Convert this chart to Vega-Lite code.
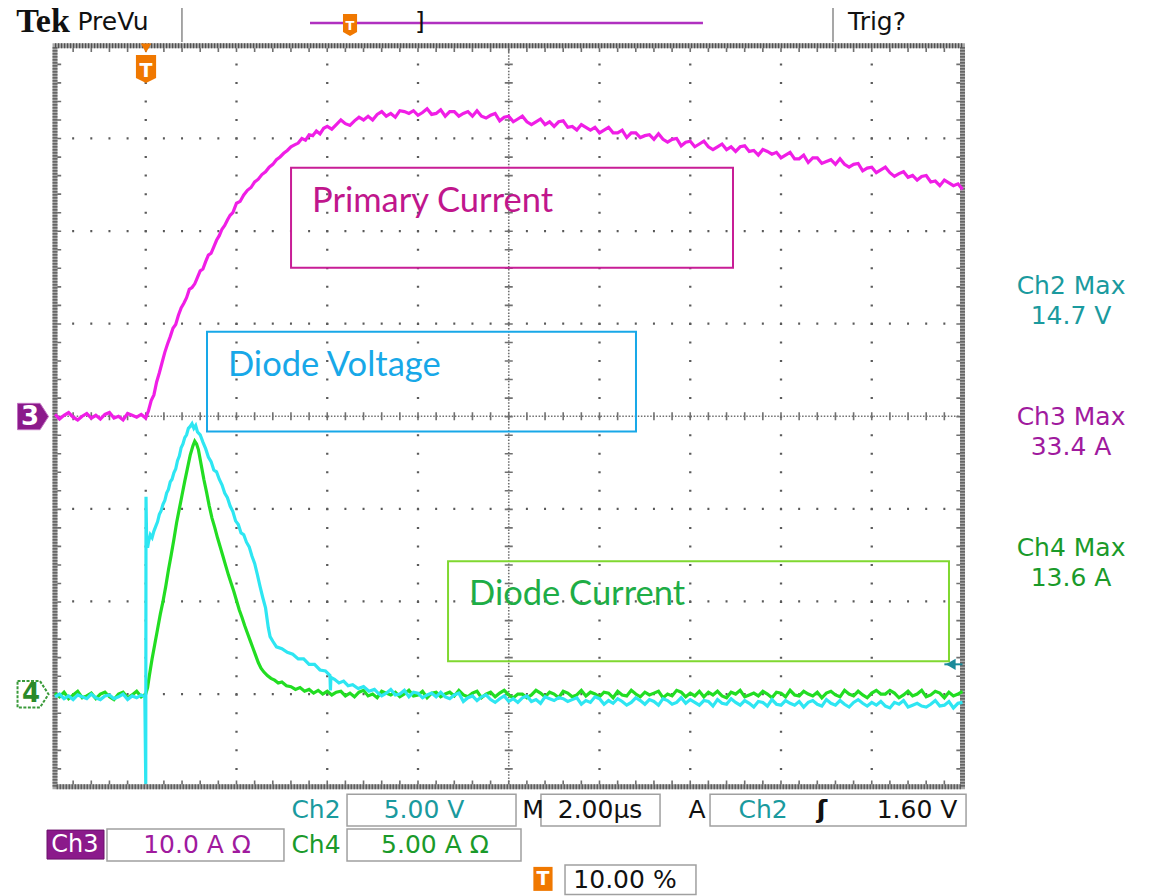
{
"$schema": "https://vega.github.io/schema/vega-lite/v6.json",
"width": 1151, "height": 896, "padding": 0,
"autosize": {"type": "fit", "contains": "padding"},
"background": "white",
"config": {"view": {"stroke": null}},
"datasets": {
"ch3": [
{"t":0.00,"v":0.02},{"t":0.05,"v":-0.03},{"t":0.10,"v":0.01},{"t":0.15,"v":0.04},{"t":0.20,"v":-0.01},{"t":0.25,"v":-0.04},{"t":0.30,"v":0.00},{"t":0.35,"v":0.03},{"t":0.40,"v":-0.02},{"t":0.45,"v":0.01},{"t":0.50,"v":-0.03},{"t":0.55,"v":0.02},{"t":0.60,"v":0.04},{"t":0.65,"v":-0.02},{"t":0.70,"v":0.00},{"t":0.75,"v":-0.04},{"t":0.80,"v":0.03},{"t":0.85,"v":0.01},{"t":0.90,"v":-0.01},{"t":0.95,"v":0.02},{"t":1.00,"v":-0.02},
{"t":1.03,"v":0.06},{"t":1.06,"v":0.17},{"t":1.09,"v":0.23},{"t":1.12,"v":0.37},{"t":1.15,"v":0.47},{"t":1.18,"v":0.58},{"t":1.21,"v":0.69},{"t":1.24,"v":0.78},{"t":1.27,"v":0.86},{"t":1.30,"v":0.95},{"t":1.33,"v":0.99},{"t":1.36,"v":1.09},{"t":1.39,"v":1.17},{"t":1.42,"v":1.22},{"t":1.45,"v":1.28},{"t":1.48,"v":1.37},{"t":1.51,"v":1.39},{"t":1.54,"v":1.43},{"t":1.57,"v":1.50},{"t":1.60,"v":1.57},{"t":1.63,"v":1.59},{"t":1.66,"v":1.67},{"t":1.69,"v":1.74},{"t":1.72,"v":1.76},{"t":1.75,"v":1.83},{"t":1.78,"v":1.90},{"t":1.81,"v":1.95},{"t":1.84,"v":2.02},{"t":1.87,"v":2.06},{"t":1.90,"v":2.12},{"t":1.93,"v":2.17},{"t":1.96,"v":2.20},{"t":2.00,"v":2.30},{"t":2.04,"v":2.32},{"t":2.08,"v":2.39},{"t":2.12,"v":2.44},{"t":2.16,"v":2.47},{"t":2.20,"v":2.53},{"t":2.24,"v":2.56},{"t":2.28,"v":2.61},{"t":2.32,"v":2.64},{"t":2.36,"v":2.69},{"t":2.40,"v":2.72},{"t":2.44,"v":2.77},{"t":2.48,"v":2.80},{"t":2.52,"v":2.84},{"t":2.56,"v":2.87},{"t":2.60,"v":2.91},{"t":2.64,"v":2.93},{"t":2.68,"v":2.95},{"t":2.72,"v":3.00},{"t":2.76,"v":2.98},{"t":2.80,"v":3.04},{"t":2.84,"v":3.03},{"t":2.88,"v":3.08},{"t":2.92,"v":3.05},{"t":2.96,"v":3.11},
{"t":3.00,"v":3.13},{"t":3.05,"v":3.10},{"t":3.10,"v":3.15},{"t":3.15,"v":3.20},{"t":3.20,"v":3.16},{"t":3.25,"v":3.14},{"t":3.30,"v":3.19},{"t":3.35,"v":3.23},{"t":3.40,"v":3.20},{"t":3.45,"v":3.24},{"t":3.50,"v":3.20},{"t":3.55,"v":3.26},{"t":3.60,"v":3.29},{"t":3.65,"v":3.24},{"t":3.70,"v":3.27},{"t":3.75,"v":3.23},{"t":3.80,"v":3.30},{"t":3.85,"v":3.29},{"t":3.90,"v":3.27},{"t":3.95,"v":3.30},{"t":4.00,"v":3.25},{"t":4.05,"v":3.28},{"t":4.10,"v":3.32},{"t":4.15,"v":3.26},{"t":4.20,"v":3.27},{"t":4.25,"v":3.31},{"t":4.30,"v":3.24},{"t":4.35,"v":3.29},{"t":4.40,"v":3.29},{"t":4.45,"v":3.24},{"t":4.50,"v":3.27},{"t":4.55,"v":3.29},{"t":4.60,"v":3.24},{"t":4.65,"v":3.30},{"t":4.70,"v":3.24},{"t":4.75,"v":3.22},{"t":4.80,"v":3.25},{"t":4.85,"v":3.27},{"t":4.90,"v":3.19},{"t":4.95,"v":3.23},{"t":5.00,"v":3.24},{"t":5.05,"v":3.18},{"t":5.10,"v":3.21},{"t":5.15,"v":3.24},{"t":5.20,"v":3.18},{"t":5.25,"v":3.15},{"t":5.30,"v":3.18},{"t":5.35,"v":3.21},{"t":5.40,"v":3.15},{"t":5.45,"v":3.18},{"t":5.50,"v":3.13},{"t":5.55,"v":3.18},{"t":5.60,"v":3.19},{"t":5.65,"v":3.12},{"t":5.70,"v":3.13},{"t":5.75,"v":3.09},{"t":5.80,"v":3.15},{"t":5.85,"v":3.12},{"t":5.90,"v":3.09},{"t":5.95,"v":3.12},{"t":6.00,"v":3.06},{"t":6.05,"v":3.09},{"t":6.10,"v":3.12},{"t":6.15,"v":3.06},{"t":6.20,"v":3.06},{"t":6.25,"v":3.09},{"t":6.30,"v":3.01},{"t":6.35,"v":3.06},{"t":6.40,"v":3.06},{"t":6.45,"v":3.01},{"t":6.50,"v":3.03},{"t":6.55,"v":3.04},{"t":6.60,"v":2.99},{"t":6.65,"v":3.05},{"t":6.70,"v":2.99},{"t":6.75,"v":2.96},{"t":6.80,"v":2.99},{"t":6.85,"v":3.00},{"t":6.90,"v":2.92},{"t":6.95,"v":2.96},{"t":7.00,"v":2.97},{"t":7.05,"v":2.91},{"t":7.10,"v":2.94},{"t":7.15,"v":2.97},{"t":7.20,"v":2.91},{"t":7.25,"v":2.88},{"t":7.30,"v":2.91},{"t":7.35,"v":2.94},{"t":7.40,"v":2.88},{"t":7.45,"v":2.91},{"t":7.50,"v":2.86},{"t":7.55,"v":2.91},{"t":7.60,"v":2.92},{"t":7.65,"v":2.86},{"t":7.70,"v":2.87},{"t":7.75,"v":2.82},{"t":7.80,"v":2.88},{"t":7.85,"v":2.86},{"t":7.90,"v":2.83},{"t":7.95,"v":2.85},{"t":8.00,"v":2.79},{"t":8.05,"v":2.82},{"t":8.10,"v":2.85},{"t":8.15,"v":2.78},{"t":8.20,"v":2.78},{"t":8.25,"v":2.82},{"t":8.30,"v":2.74},{"t":8.35,"v":2.79},{"t":8.40,"v":2.79},{"t":8.45,"v":2.73},{"t":8.50,"v":2.75},{"t":8.55,"v":2.77},{"t":8.60,"v":2.72},{"t":8.65,"v":2.78},{"t":8.70,"v":2.72},{"t":8.75,"v":2.69},{"t":8.80,"v":2.72},{"t":8.85,"v":2.73},{"t":8.90,"v":2.65},{"t":8.95,"v":2.68},{"t":9.00,"v":2.69},{"t":9.05,"v":2.63},{"t":9.10,"v":2.66},{"t":9.15,"v":2.69},{"t":9.20,"v":2.63},{"t":9.25,"v":2.59},{"t":9.30,"v":2.62},{"t":9.35,"v":2.64},{"t":9.40,"v":2.58},{"t":9.45,"v":2.60},{"t":9.50,"v":2.55},{"t":9.55,"v":2.59},{"t":9.60,"v":2.60},{"t":9.65,"v":2.53},{"t":9.70,"v":2.54},{"t":9.75,"v":2.49},{"t":9.80,"v":2.55},{"t":9.85,"v":2.52},{"t":9.90,"v":2.49},{"t":9.95,"v":2.51},{"t":10.00,"v":2.45}
],
"ch4": [
{"t":0.00,"v":-2.99},{"t":0.05,"v":-3.03},{"t":0.10,"v":-2.98},{"t":0.15,"v":-3.05},{"t":0.20,"v":-3.01},{"t":0.25,"v":-2.97},{"t":0.30,"v":-3.04},{"t":0.35,"v":-3.02},{"t":0.40,"v":-2.99},{"t":0.45,"v":-3.05},{"t":0.50,"v":-3.00},{"t":0.55,"v":-2.98},{"t":0.60,"v":-3.03},{"t":0.65,"v":-3.06},{"t":0.70,"v":-3.00},{"t":0.75,"v":-2.98},{"t":0.80,"v":-3.04},{"t":0.85,"v":-3.01},{"t":0.90,"v":-2.97},{"t":0.95,"v":-3.03},{"t":1.00,"v":-3.00},
{"t":1.02,"v":-2.93},{"t":1.04,"v":-2.80},{"t":1.07,"v":-2.62},{"t":1.10,"v":-2.46},{"t":1.13,"v":-2.30},{"t":1.16,"v":-2.14},{"t":1.19,"v":-2.00},{"t":1.22,"v":-1.84},{"t":1.25,"v":-1.66},{"t":1.28,"v":-1.50},{"t":1.31,"v":-1.33},{"t":1.34,"v":-1.15},{"t":1.37,"v":-1.00},{"t":1.40,"v":-0.85},{"t":1.43,"v":-0.70},{"t":1.46,"v":-0.56},{"t":1.49,"v":-0.42},{"t":1.52,"v":-0.32},{"t":1.54,"v":-0.27},{"t":1.56,"v":-0.30},{"t":1.58,"v":-0.36},{"t":1.61,"v":-0.52},{"t":1.64,"v":-0.68},{"t":1.67,"v":-0.82},{"t":1.70,"v":-0.97},{"t":1.73,"v":-1.10},{"t":1.76,"v":-1.20},{"t":1.79,"v":-1.31},{"t":1.82,"v":-1.41},{"t":1.85,"v":-1.51},{"t":1.88,"v":-1.61},{"t":1.91,"v":-1.71},{"t":1.94,"v":-1.80},{"t":1.97,"v":-1.89},{"t":2.00,"v":-1.99},{"t":2.03,"v":-2.09},{"t":2.06,"v":-2.17},{"t":2.09,"v":-2.26},{"t":2.12,"v":-2.34},{"t":2.15,"v":-2.42},{"t":2.18,"v":-2.50},{"t":2.21,"v":-2.58},{"t":2.24,"v":-2.66},{"t":2.27,"v":-2.72},{"t":2.30,"v":-2.76},{"t":2.34,"v":-2.80},{"t":2.38,"v":-2.83},{"t":2.42,"v":-2.85},{"t":2.46,"v":-2.88},{"t":2.50,"v":-2.87},{"t":2.55,"v":-2.91},{"t":2.60,"v":-2.92},{"t":2.65,"v":-2.95},{"t":2.70,"v":-2.93},{"t":2.75,"v":-2.97},{"t":2.80,"v":-2.95},{"t":2.85,"v":-2.99},{"t":2.90,"v":-2.96},{"t":2.95,"v":-3.00},{"t":3.00,"v":-2.97},{"t":3.05,"v":-3.01},{"t":3.10,"v":-2.98},
{"t":3.15,"v":-2.97},{"t":3.20,"v":-3.02},{"t":3.25,"v":-2.99},{"t":3.30,"v":-3.03},{"t":3.35,"v":-2.98},{"t":3.40,"v":-2.96},{"t":3.45,"v":-3.02},{"t":3.50,"v":-3.00},{"t":3.55,"v":-3.04},{"t":3.60,"v":-2.97},{"t":3.65,"v":-2.99},{"t":3.70,"v":-3.01},{"t":3.75,"v":-2.98},{"t":3.80,"v":-3.03},{"t":3.85,"v":-3.00},{"t":3.90,"v":-2.96},{"t":3.95,"v":-3.02},{"t":4.00,"v":-3.01},{"t":4.05,"v":-2.97},{"t":4.10,"v":-3.04},{"t":4.15,"v":-2.99},{"t":4.20,"v":-2.98},{"t":4.25,"v":-3.03},{"t":4.30,"v":-3.00},{"t":4.35,"v":-2.98},{"t":4.40,"v":-3.02},{"t":4.45,"v":-2.96},{"t":4.50,"v":-3.01},{"t":4.55,"v":-3.03},{"t":4.60,"v":-2.99},{"t":4.65,"v":-2.97},{"t":4.70,"v":-3.04},{"t":4.75,"v":-3.00},{"t":4.80,"v":-2.98},{"t":4.85,"v":-3.03},{"t":4.90,"v":-2.99},{"t":4.95,"v":-2.96},{"t":5.00,"v":-3.01},{"t":5.05,"v":-3.04},{"t":5.10,"v":-3.00},
{"t":5.15,"v":-3.00},{"t":5.20,"v":-3.04},{"t":5.25,"v":-3.01},{"t":5.30,"v":-2.96},{"t":5.35,"v":-2.99},{"t":5.40,"v":-3.03},{"t":5.45,"v":-2.98},{"t":5.50,"v":-3.00},{"t":5.55,"v":-3.04},{"t":5.60,"v":-2.97},{"t":5.65,"v":-2.99},{"t":5.70,"v":-3.03},{"t":5.75,"v":-3.01},{"t":5.80,"v":-2.96},{"t":5.85,"v":-3.02},{"t":5.90,"v":-2.98},{"t":5.95,"v":-3.00},{"t":6.00,"v":-3.03},{"t":6.05,"v":-2.98},{"t":6.10,"v":-2.99},{"t":6.15,"v":-3.04},{"t":6.20,"v":-2.97},{"t":6.25,"v":-3.01},{"t":6.30,"v":-3.02},{"t":6.35,"v":-2.96},{"t":6.40,"v":-3.00},{"t":6.45,"v":-3.03},{"t":6.50,"v":-2.98},{"t":6.55,"v":-3.01},{"t":6.60,"v":-2.99},{"t":6.65,"v":-2.97},{"t":6.70,"v":-3.04},{"t":6.75,"v":-3.00},{"t":6.80,"v":-3.02},{"t":6.85,"v":-2.96},{"t":6.90,"v":-2.98},{"t":6.95,"v":-3.03},{"t":7.00,"v":-2.99},{"t":7.05,"v":-3.02},{"t":7.10,"v":-2.97},
{"t":7.15,"v":-3.03},{"t":7.20,"v":-2.98},{"t":7.25,"v":-3.01},{"t":7.30,"v":-2.97},{"t":7.35,"v":-3.02},{"t":7.40,"v":-3.04},{"t":7.45,"v":-2.98},{"t":7.50,"v":-3.00},{"t":7.55,"v":-2.96},{"t":7.60,"v":-3.03},{"t":7.65,"v":-3.01},{"t":7.70,"v":-2.99},{"t":7.75,"v":-3.02},{"t":7.80,"v":-2.97},{"t":7.85,"v":-3.00},{"t":7.90,"v":-3.04},{"t":7.95,"v":-2.98},{"t":8.00,"v":-2.99},{"t":8.05,"v":-3.03},{"t":8.10,"v":-2.96},{"t":8.15,"v":-3.01},{"t":8.20,"v":-3.02},{"t":8.25,"v":-2.97},{"t":8.30,"v":-3.00},{"t":8.35,"v":-3.02},{"t":8.40,"v":-2.98},{"t":8.45,"v":-3.04},{"t":8.50,"v":-2.99},{"t":8.55,"v":-2.97},{"t":8.60,"v":-3.01},{"t":8.65,"v":-3.03},{"t":8.70,"v":-2.96},{"t":8.75,"v":-3.00},{"t":8.80,"v":-3.02},{"t":8.85,"v":-2.97},{"t":8.90,"v":-3.01},{"t":8.95,"v":-3.04},{"t":9.00,"v":-2.99},{"t":9.05,"v":-2.96},{"t":9.10,"v":-3.00},
{"t":9.15,"v":-3.00},{"t":9.20,"v":-2.96},{"t":9.25,"v":-2.99},{"t":9.30,"v":-3.04},{"t":9.35,"v":-3.01},{"t":9.40,"v":-2.97},{"t":9.45,"v":-3.02},{"t":9.50,"v":-3.00},{"t":9.55,"v":-2.96},{"t":9.60,"v":-3.03},{"t":9.65,"v":-3.01},{"t":9.70,"v":-2.97},{"t":9.75,"v":-2.99},{"t":9.80,"v":-3.04},{"t":9.85,"v":-2.98},{"t":9.90,"v":-3.02},{"t":9.95,"v":-3.00},{"t":10.00,"v":-2.97}
],
"ch2": [
{"t":0.00,"v":-3.03},{"t":0.05,"v":-3.00},{"t":0.10,"v":-3.05},{"t":0.15,"v":-3.02},{"t":0.20,"v":-3.06},{"t":0.25,"v":-3.01},{"t":0.30,"v":-3.03},{"t":0.35,"v":-3.05},{"t":0.40,"v":-3.00},{"t":0.45,"v":-3.04},{"t":0.50,"v":-3.06},{"t":0.55,"v":-3.02},{"t":0.60,"v":-3.01},{"t":0.65,"v":-3.05},{"t":0.70,"v":-3.03},{"t":0.75,"v":-3.00},{"t":0.80,"v":-3.06},{"t":0.85,"v":-3.02},{"t":0.90,"v":-3.04},{"t":0.95,"v":-3.01},{"t":0.99,"v":-3.03},
{"t":1.000,"v":-3.97},{"t":1.003,"v":-0.87},{"t":1.006,"v":-1.10},{"t":1.010,"v":-1.35},{"t":1.02,"v":-1.42},{"t":1.03,"v":-1.36},{"t":1.05,"v":-1.28},{"t":1.07,"v":-1.31},{"t":1.09,"v":-1.24},{"t":1.11,"v":-1.19},{"t":1.13,"v":-1.14},{"t":1.15,"v":-1.06},{"t":1.17,"v":-1.02},{"t":1.19,"v":-0.95},{"t":1.21,"v":-0.91},{"t":1.23,"v":-0.83},{"t":1.25,"v":-0.79},{"t":1.27,"v":-0.71},{"t":1.29,"v":-0.68},{"t":1.31,"v":-0.61},{"t":1.33,"v":-0.57},{"t":1.35,"v":-0.48},{"t":1.37,"v":-0.43},{"t":1.39,"v":-0.34},{"t":1.41,"v":-0.30},{"t":1.43,"v":-0.23},{"t":1.45,"v":-0.20},{"t":1.47,"v":-0.13},{"t":1.49,"v":-0.11},{"t":1.51,"v":-0.08},{"t":1.53,"v":-0.13},{"t":1.55,"v":-0.10},{"t":1.57,"v":-0.17},{"t":1.60,"v":-0.20},{"t":1.63,"v":-0.28},{"t":1.66,"v":-0.35},{"t":1.69,"v":-0.44},{"t":1.72,"v":-0.49},{"t":1.75,"v":-0.58},{"t":1.78,"v":-0.60},{"t":1.81,"v":-0.68},{"t":1.84,"v":-0.74},{"t":1.87,"v":-0.83},{"t":1.90,"v":-0.88},{"t":1.93,"v":-0.97},{"t":1.96,"v":-1.03},{"t":1.99,"v":-1.13},{"t":2.02,"v":-1.17},{"t":2.05,"v":-1.26},{"t":2.08,"v":-1.28},{"t":2.11,"v":-1.36},{"t":2.14,"v":-1.41},{"t":2.17,"v":-1.51},{"t":2.20,"v":-1.59},{"t":2.23,"v":-1.71},{"t":2.26,"v":-1.84},{"t":2.29,"v":-1.96},{"t":2.32,"v":-2.07},{"t":2.35,"v":-2.28},{"t":2.37,"v":-2.38},{"t":2.40,"v":-2.43},{"t":2.44,"v":-2.49},{"t":2.50,"v":-2.51},{"t":2.56,"v":-2.55},{"t":2.62,"v":-2.57},{"t":2.68,"v":-2.62},{"t":2.74,"v":-2.62},{"t":2.80,"v":-2.68},{"t":2.86,"v":-2.68},{"t":2.92,"v":-2.74},{"t":2.98,"v":-2.75},{"t":3.03,"v":-2.80},{"t":3.035,"v":-2.96},{"t":3.04,"v":-2.82},{"t":3.08,"v":-2.84},{"t":3.13,"v":-2.88},{"t":3.18,"v":-2.86},{"t":3.23,"v":-2.91},{"t":3.28,"v":-2.90},{"t":3.34,"v":-2.94},{"t":3.40,"v":-2.92},{"t":3.46,"v":-2.97},{"t":3.52,"v":-2.95},{"t":3.56,"v":-2.99},
{"t":3.60,"v":-3.02},{"t":3.65,"v":-2.99},{"t":3.70,"v":-2.95},{"t":3.75,"v":-3.01},{"t":3.80,"v":-3.00},{"t":3.85,"v":-2.96},{"t":3.90,"v":-3.03},{"t":3.95,"v":-2.98},{"t":4.00,"v":-2.99},{"t":4.05,"v":-3.04},{"t":4.10,"v":-3.01},{"t":4.15,"v":-2.99},{"t":4.20,"v":-3.03},{"t":4.25,"v":-2.98},{"t":4.30,"v":-3.03},{"t":4.35,"v":-3.05},{"t":4.40,"v":-3.01},{"t":4.45,"v":-2.99},{"t":4.50,"v":-3.08},{"t":4.55,"v":-3.04},{"t":4.60,"v":-3.02},{"t":4.65,"v":-3.07},{"t":4.70,"v":-3.03},{"t":4.75,"v":-3.01},{"t":4.80,"v":-3.06},{"t":4.85,"v":-3.09},{"t":4.90,"v":-3.05},{"t":4.95,"v":-3.02},{"t":5.00,"v":-3.08},{"t":5.05,"v":-3.05},{"t":5.10,"v":-3.09},{"t":5.15,"v":-3.04},{"t":5.20,"v":-3.02},{"t":5.25,"v":-3.08},{"t":5.30,"v":-3.06},{"t":5.35,"v":-3.10},{"t":5.40,"v":-3.03},{"t":5.45,"v":-3.05},{"t":5.50,"v":-3.07},{"t":5.55,"v":-3.04},
{"t":5.60,"v":-3.05},{"t":5.65,"v":-3.08},{"t":5.70,"v":-3.06},{"t":5.75,"v":-3.04},{"t":5.80,"v":-3.11},{"t":5.85,"v":-3.07},{"t":5.90,"v":-3.09},{"t":5.95,"v":-3.03},{"t":6.00,"v":-3.05},{"t":6.05,"v":-3.11},{"t":6.10,"v":-3.07},{"t":6.15,"v":-3.10},{"t":6.20,"v":-3.05},{"t":6.25,"v":-3.08},{"t":6.30,"v":-3.12},{"t":6.35,"v":-3.09},{"t":6.40,"v":-3.04},{"t":6.45,"v":-3.07},{"t":6.50,"v":-3.11},{"t":6.55,"v":-3.06},{"t":6.60,"v":-3.08},{"t":6.65,"v":-3.12},{"t":6.70,"v":-3.05},{"t":6.75,"v":-3.07},{"t":6.80,"v":-3.11},{"t":6.85,"v":-3.09},{"t":6.90,"v":-3.04},{"t":6.95,"v":-3.10},{"t":7.00,"v":-3.06},{"t":7.05,"v":-3.09},{"t":7.10,"v":-3.12},{"t":7.15,"v":-3.07},{"t":7.20,"v":-3.08},{"t":7.25,"v":-3.13},{"t":7.30,"v":-3.06},{"t":7.35,"v":-3.10},{"t":7.40,"v":-3.11},{"t":7.45,"v":-3.05},{"t":7.50,"v":-3.09},{"t":7.55,"v":-3.12},
{"t":7.60,"v":-3.07},{"t":7.65,"v":-3.10},{"t":7.70,"v":-3.14},{"t":7.75,"v":-3.08},{"t":7.80,"v":-3.09},{"t":7.85,"v":-3.13},{"t":7.90,"v":-3.06},{"t":7.95,"v":-3.11},{"t":8.00,"v":-3.12},{"t":8.05,"v":-3.07},{"t":8.10,"v":-3.10},{"t":8.15,"v":-3.12},{"t":8.20,"v":-3.08},{"t":8.25,"v":-3.14},{"t":8.30,"v":-3.09},{"t":8.35,"v":-3.07},{"t":8.40,"v":-3.11},{"t":8.45,"v":-3.13},{"t":8.50,"v":-3.06},{"t":8.55,"v":-3.10},{"t":8.60,"v":-3.12},{"t":8.65,"v":-3.07},{"t":8.70,"v":-3.11},{"t":8.75,"v":-3.14},{"t":8.80,"v":-3.09},{"t":8.85,"v":-3.06},{"t":8.90,"v":-3.10},{"t":8.95,"v":-3.13},{"t":9.00,"v":-3.09},{"t":9.05,"v":-3.12},{"t":9.10,"v":-3.08},{"t":9.15,"v":-3.13},{"t":9.20,"v":-3.15},{"t":9.25,"v":-3.09},{"t":9.30,"v":-3.11},{"t":9.35,"v":-3.07},{"t":9.40,"v":-3.14},{"t":9.45,"v":-3.12},{"t":9.50,"v":-3.10},{"t":9.55,"v":-3.13},
{"t":9.60,"v":-3.14},{"t":9.65,"v":-3.11},{"t":9.70,"v":-3.07},{"t":9.75,"v":-3.13},{"t":9.80,"v":-3.12},{"t":9.85,"v":-3.08},{"t":9.90,"v":-3.15},{"t":9.95,"v":-3.10},{"t":10.00,"v":-3.09}
],
"frame": [{"t":0,"t2":10,"v":-4,"v2":4}],
"vgrid": [{"t":1,"v":4,"v2":-4},{"t":2,"v":4,"v2":-4},{"t":3,"v":4,"v2":-4},{"t":4,"v":4,"v2":-4},{"t":6,"v":4,"v2":-4},{"t":7,"v":4,"v2":-4},{"t":8,"v":4,"v2":-4},{"t":9,"v":4,"v2":-4}],
"hgrid": [{"t":0,"t2":10,"v":3},{"t":0,"t2":10,"v":2},{"t":0,"t2":10,"v":1},{"t":0,"t2":10,"v":-1},{"t":0,"t2":10,"v":-2},{"t":0,"t2":10,"v":-3}],
"vcenter": [{"t":5,"v":4,"v2":-4}],
"hcenter": [{"t":0,"t2":10,"v":0}],
"edgeh": [{"t":0,"t2":10,"v":3.965},{"t":0,"t2":10,"v":-3.965}],
"edgev": [{"t":0.035,"v":4,"v2":-4},{"t":9.965,"v":4,"v2":-4}],
"seps": [{"t":1.399,"v":4.409,"v2":4.042},{"t":8.573,"v":4.409,"v2":4.042}],
"recbar": [{"t":2.810,"t2":7.140,"v":4.247}],
"notes": [
{"t":2.601,"t2":7.471,"v":2.683,"v2":1.604,"name":"Primary Current"},
{"t":1.675,"t2":6.402,"v":0.913,"v2":-0.165,"name":"Diode Voltage"},
{"t":4.331,"t2":9.851,"v":-1.567,"v2":-2.646,"name":"Diode Current"}
],
"notelabels": [
{"t":2.832,"v":2.314,"name":"Primary Current"},
{"t":1.906,"v":0.547,"name":"Diode Voltage"},
{"t":4.562,"v":-1.934,"name":"Diode Current"}
],
"boxes": [
{"t":3.218,"t2":5.080,"v":-4.081,"v2":-4.426},
{"t":5.355,"t2":6.667,"v":-4.081,"v2":-4.426},
{"t":7.218,"t2":10.039,"v":-4.081,"v2":-4.426},
{"t":0.573,"t2":2.523,"v":-4.458,"v2":-4.803},
{"t":3.218,"t2":5.135,"v":-4.458,"v2":-4.803},
{"t":5.620,"t2":7.063,"v":-4.846,"v2":-5.165}
],
"ch3box": [{"t":-0.088,"t2":0.540,"v":-4.469,"v2":-4.782}],
"trigline": [{"t":9.80,"t2":10.0,"v":-2.679}],
"trigmark": [{"t":9.87,"v":-2.679}],
"marker3": [{"t":-0.242,"v":-0.003}],
"marker4": [{"t":-0.242,"v":-3.002}],
"shieldbig": [{"t":1.003,"v":3.751}],
"tribig": [{"t":1.003,"v":3.975}],
"shieldsmall": [{"t":3.251,"v":4.226}],
"iconT": [{"t":5.377,"v":-4.996}],
"txt_tek": [{"t":-0.132,"v":4.258,"text":"Tek"}],
"txt_black": [
{"t":0.639,"v":4.258,"text":"PreVu"},
{"t":9.058,"v":4.258,"text":"Trig?"},
{"t":4.022,"v":4.258,"text":"]"},
{"t":5.267,"v":-4.254,"text":"M"},
{"t":6.006,"v":-4.254,"text":"2.00µs"},
{"t":7.074,"v":-4.254,"text":"A"},
{"t":9.499,"v":-4.254,"text":"1.60 V"},
{"t":6.281,"v":-5.007,"text":"10.00 %"}
],
"txt_edge": [{"t":8.452,"v":-4.254,"text":"ʃ"}],
"txt_teal": [
{"t":2.876,"v":-4.254,"text":"Ch2"},
{"t":4.066,"v":-4.254,"text":"5.00 V"},
{"t":7.802,"v":-4.254,"text":"Ch2"},
{"t":11.196,"v":1.408,"text":"Ch2 Max"},
{"t":11.196,"v":1.085,"text":"14.7 V"}
],
"txt_purple": [
{"t":1.565,"v":-4.632,"text":"10.0 A Ω"},
{"t":11.196,"v":-0.003,"text":"Ch3 Max"},
{"t":11.196,"v":-0.327,"text":"33.4 A"}
],
"txt_green": [
{"t":2.876,"v":-4.632,"text":"Ch4"},
{"t":4.187,"v":-4.632,"text":"5.00 A Ω"},
{"t":11.196,"v":-1.427,"text":"Ch4 Max"},
{"t":11.196,"v":-1.751,"text":"13.6 A"}
],
"txt_white": [
{"t":0.220,"v":-4.632,"text":"Ch3"}
],
"txt_three": [{"t":-0.275,"v":-0.003,"text":"3"}],
"txt_four": [{"t":-0.264,"v":-3.002,"text":"4"}],
"txt_T": [{"t":1.003,"v":3.73,"text":"T"},{"t":5.377,"v":-5.0,"text":"T"}],
"txt_Tsmall": [{"t":3.251,"v":4.215,"text":"T"}]
},
"encoding": {
"x": {"field": "t", "type": "quantitative", "scale": {"domain": [-0.606, 12.077], "nice": false, "zero": false}, "axis": null},
"y": {"field": "v", "type": "quantitative", "scale": {"domain": [-5.170, 4.495], "nice": false, "zero": false}, "axis": null}
},
"layer": [
{"data": {"name": "vgrid"}, "mark": {"type": "rule", "color": "#5a5a5a", "strokeWidth": 2.3, "strokeDash": [2, 16.54], "strokeDashOffset": 1}, "encoding": {"y2": {"field": "v2"}}},
{"data": {"name": "hgrid"}, "mark": {"type": "rule", "color": "#5a5a5a", "strokeWidth": 2.3, "strokeDash": [2, 16.15], "strokeDashOffset": 1}, "encoding": {"x2": {"field": "t2"}}},
{"data": {"name": "vcenter"}, "mark": {"type": "rule", "color": "#707070", "strokeWidth": 1.6, "strokeDash": [1.5, 1.6]}, "encoding": {"y2": {"field": "v2"}}},
{"data": {"name": "vcenter"}, "mark": {"type": "rule", "color": "#707070", "strokeWidth": 8, "strokeDash": [1.6, 16.94], "strokeDashOffset": 0.8}, "encoding": {"y2": {"field": "v2"}}},
{"data": {"name": "hcenter"}, "mark": {"type": "rule", "color": "#707070", "strokeWidth": 1.6, "strokeDash": [1.5, 1.6]}, "encoding": {"x2": {"field": "t2"}}},
{"data": {"name": "hcenter"}, "mark": {"type": "rule", "color": "#707070", "strokeWidth": 8, "strokeDash": [1.6, 16.55], "strokeDashOffset": 0.8}, "encoding": {"x2": {"field": "t2"}}},
{"data": {"name": "edgeh"}, "mark": {"type": "rule", "color": "#707070", "strokeWidth": 6, "strokeDash": [1.6, 16.55], "strokeDashOffset": 0.8}, "encoding": {"x2": {"field": "t2"}}},
{"data": {"name": "edgev"}, "mark": {"type": "rule", "color": "#707070", "strokeWidth": 6, "strokeDash": [1.6, 16.94], "strokeDashOffset": 0.8}, "encoding": {"y2": {"field": "v2"}}},
{"data": {"name": "frame"}, "mark": {"type": "rect", "fill": "transparent", "stroke": "#a8a8a8", "strokeWidth": 5}, "encoding": {"x2": {"field": "t2"}, "y2": {"field": "v2"}}},
{"data": {"name": "frame"}, "mark": {"type": "rect", "fill": "transparent", "stroke": "#505050", "strokeWidth": 5, "strokeDash": [1.2, 1.8]}, "encoding": {"x2": {"field": "t2"}, "y2": {"field": "v2"}}},
{"data": {"name": "seps"}, "mark": {"type": "rule", "color": "#8a8a8a", "strokeWidth": 1.5}, "encoding": {"y2": {"field": "v2"}}},
{"data": {"name": "recbar"}, "mark": {"type": "rule", "color": "#b030c0", "strokeWidth": 2.5}, "encoding": {"x2": {"field": "t2"}}},
{"data": {"name": "ch3"}, "mark": {"type": "line", "color": "#f01ee6", "strokeWidth": 3.2}},
{"data": {"name": "ch4"}, "mark": {"type": "line", "color": "#22dd22", "strokeWidth": 3.2}},
{"data": {"name": "ch2"}, "mark": {"type": "line", "color": "#2ee6f2", "strokeWidth": 3.2}},
{"data": {"name": "trigline"}, "mark": {"type": "rule", "color": "#1a8a9a", "strokeWidth": 2}, "encoding": {"x2": {"field": "t2"}}},
{"data": {"name": "trigmark"}, "mark": {"type": "point", "shape": "triangle-left", "filled": true, "color": "#1a8a9a", "opacity": 1, "size": 130}},
{"data": {"name": "notes"}, "mark": {"type": "rect", "fill": "transparent", "strokeWidth": 2}, "encoding": {"x2": {"field": "t2"}, "y2": {"field": "v2"}, "stroke": {"field": "name", "type": "nominal", "scale": {"domain": ["Primary Current", "Diode Voltage", "Diode Current"], "range": ["#c81e96", "#18a8e8", "#80d830"]}, "legend": null}}},
{"data": {"name": "notelabels"}, "mark": {"type": "text", "font": "Lato", "fontSize": 34.5, "align": "left", "baseline": "middle"}, "encoding": {"text": {"field": "name"}, "color": {"field": "name", "type": "nominal", "scale": {"domain": ["Primary Current", "Diode Voltage", "Diode Current"], "range": ["#c0168c", "#18a8e8", "#1ead46"]}, "legend": null}}},
{"data": {"name": "boxes"}, "mark": {"type": "rect", "fill": "transparent", "stroke": "#a0a0a0", "strokeWidth": 1.5}, "encoding": {"x2": {"field": "t2"}, "y2": {"field": "v2"}}},
{"data": {"name": "ch3box"}, "mark": {"type": "rect", "fill": "#8b1a8b", "stroke": "#6a106a", "strokeWidth": 1}, "encoding": {"x2": {"field": "t2"}, "y2": {"field": "v2"}}},
{"data": {"name": "marker3"}, "mark": {"type": "point", "shape": "M-1,-0.85L0.45,-0.85L1,0L0.45,0.85L-1,0.85Z", "filled": true, "fill": "#8b1a8b", "stroke": "#c070c0", "strokeWidth": 1, "opacity": 1, "size": 961}},
{"data": {"name": "marker4"}, "mark": {"type": "point", "shape": "M-1,-0.85L0.45,-0.85L1,0L0.45,0.85L-1,0.85Z", "filled": true, "fill": "white", "stroke": "#3a9a3a", "strokeWidth": 2, "strokeDash": [3, 1.5], "opacity": 1, "size": 961}},
{"data": {"name": "tribig"}, "mark": {"type": "point", "shape": "triangle-down", "filled": true, "color": "#f07800", "opacity": 1, "size": 110}},
{"data": {"name": "shieldbig"}, "mark": {"type": "point", "shape": "M-0.72,-1L0.72,-1L0.72,0.65L0,1L-0.72,0.65Z", "filled": true, "color": "#f07800", "opacity": 1, "size": 784}},
{"data": {"name": "shieldsmall"}, "mark": {"type": "point", "shape": "M-0.64,-1L0.64,-1L0.64,0.65L0,1L-0.64,0.65Z", "filled": true, "color": "#f07800", "opacity": 1, "size": 484}},
{"data": {"name": "iconT"}, "mark": {"type": "point", "shape": "M-0.8,-1L0.8,-1L0.8,1L-0.8,1Z", "filled": true, "color": "#f07800", "opacity": 1, "size": 576}},
{"data": {"name": "txt_tek"}, "mark": {"type": "text", "font": "Liberation Serif", "fontWeight": "bold", "fontSize": 34, "color": "#111111", "align": "center", "baseline": "middle"}, "encoding": {"text": {"field": "text"}}},
{"data": {"name": "txt_black"}, "mark": {"type": "text", "font": "DejaVu Sans", "fontSize": 25, "color": "#111111", "align": "center", "baseline": "middle"}, "encoding": {"text": {"field": "text"}}},
{"data": {"name": "txt_edge"}, "mark": {"type": "text", "font": "DejaVu Sans", "fontWeight": "bold", "fontSize": 25, "color": "#111111", "align": "center", "baseline": "middle"}, "encoding": {"text": {"field": "text"}}},
{"data": {"name": "txt_teal"}, "mark": {"type": "text", "font": "DejaVu Sans", "fontSize": 25, "color": "#1a9a9e", "align": "center", "baseline": "middle"}, "encoding": {"text": {"field": "text"}}},
{"data": {"name": "txt_purple"}, "mark": {"type": "text", "font": "DejaVu Sans", "fontSize": 25, "color": "#a01a9e", "align": "center", "baseline": "middle"}, "encoding": {"text": {"field": "text"}}},
{"data": {"name": "txt_green"}, "mark": {"type": "text", "font": "DejaVu Sans", "fontSize": 25, "color": "#1a9a2a", "align": "center", "baseline": "middle"}, "encoding": {"text": {"field": "text"}}},
{"data": {"name": "txt_white"}, "mark": {"type": "text", "font": "DejaVu Sans", "fontSize": 24, "color": "white", "align": "center", "baseline": "middle"}, "encoding": {"text": {"field": "text"}}},
{"data": {"name": "txt_three"}, "mark": {"type": "text", "font": "DejaVu Sans", "fontWeight": "bold", "fontSize": 26, "color": "white", "align": "center", "baseline": "middle"}, "encoding": {"text": {"field": "text"}}},
{"data": {"name": "txt_four"}, "mark": {"type": "text", "font": "DejaVu Sans", "fontWeight": "bold", "fontSize": 26, "color": "#2a8a2a", "align": "center", "baseline": "middle"}, "encoding": {"text": {"field": "text"}}},
{"data": {"name": "txt_T"}, "mark": {"type": "text", "font": "DejaVu Sans", "fontWeight": "bold", "fontSize": 19, "color": "white", "align": "center", "baseline": "middle"}, "encoding": {"text": {"field": "text"}}},
{"data": {"name": "txt_Tsmall"}, "mark": {"type": "text", "font": "DejaVu Sans", "fontWeight": "bold", "fontSize": 13, "color": "white", "align": "center", "baseline": "middle"}, "encoding": {"text": {"field": "text"}}}
]
}
